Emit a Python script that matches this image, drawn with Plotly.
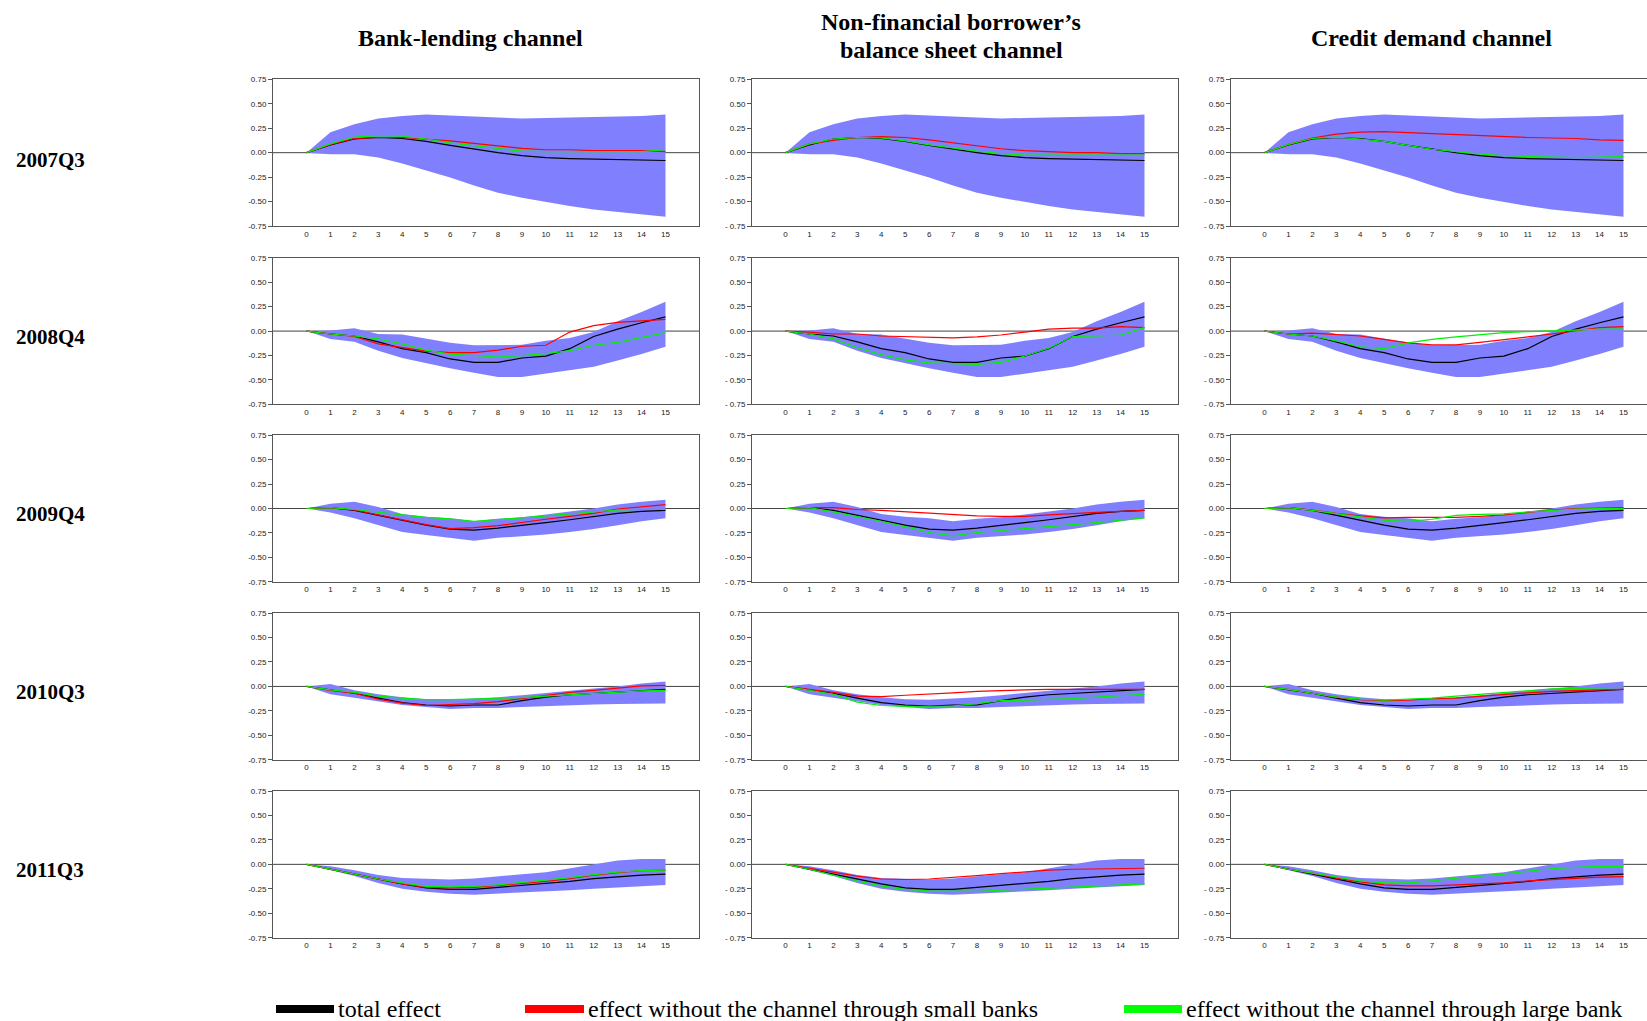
import plotly.graph_objects as go

# ---------------- data ----------------
steps = list(range(16))
period_labels = ["2007Q3", "2008Q4", "2009Q4", "2010Q3", "2011Q3"]
channel_titles = [["Bank-lending channel"],
                  ["Non-financial borrower’s", "balance sheet channel"],
                  ["Credit demand channel"]]
y_tick_vals = [0.75, 0.50, 0.25, 0.00, -0.25, -0.50, -0.75]
y_tick_text_left = ["0.75", "0.50", "0.25", "0.00", "-0.25", "-0.50", "-0.75"]
y_tick_text_other = ["0.75", "0.50", "0.25", "0.00", "- 0.25", "- 0.50", "- 0.75"]
legend_labels = ["total effect",
                 "effect without the channel through small banks",
                 "effect without the channel through large bank"]

# confidence band and total effect per period
upper_07q3 = [0, 0.21, 0.29, 0.35, 0.375, 0.39, 0.38, 0.37, 0.355, 0.35, 0.355, 0.36, 0.365, 0.365, 0.375, 0.39]
lower_07q3 = [0, -0.015, -0.015, -0.05, -0.11, -0.18, -0.255, -0.335, -0.41, -0.46, -0.505, -0.545, -0.58, -0.605, -0.63, -0.655]
total_07q3 = [0, 0.08, 0.14, 0.155, 0.145, 0.115, 0.075, 0.035, 0.0, -0.03, -0.05, -0.06, -0.065, -0.07, -0.075, -0.08]

upper_08q4 = [0, 0.005, 0.03, -0.03, -0.035, -0.08, -0.12, -0.145, -0.14, -0.14, -0.10, -0.07, -0.01, 0.10, 0.195, 0.30]
lower_08q4 = [0, -0.08, -0.11, -0.20, -0.275, -0.33, -0.38, -0.425, -0.47, -0.47, -0.435, -0.40, -0.365, -0.30, -0.235, -0.16]
total_08q4 = [0, -0.03, -0.05, -0.11, -0.18, -0.22, -0.285, -0.32, -0.32, -0.275, -0.255, -0.18, -0.055, 0.02, 0.085, 0.145]

upper_09q4 = [0, 0.05, 0.07, 0.015, -0.055, -0.085, -0.10, -0.13, -0.105, -0.09, -0.06, -0.03, 0.0, 0.04, 0.07, 0.09]
lower_09q4 = [0, -0.04, -0.10, -0.17, -0.24, -0.27, -0.30, -0.33, -0.30, -0.285, -0.265, -0.24, -0.21, -0.17, -0.13, -0.10]
total_09q4 = [0, 0.01, -0.02, -0.07, -0.12, -0.17, -0.21, -0.22, -0.20, -0.175, -0.145, -0.115, -0.08, -0.05, -0.03, -0.02]

upper_10q3 = [0, 0.025, -0.04, -0.08, -0.11, -0.13, -0.135, -0.125, -0.11, -0.09, -0.065, -0.045, -0.02, 0.0, 0.03, 0.05]
lower_10q3 = [0, -0.08, -0.115, -0.15, -0.19, -0.21, -0.23, -0.22, -0.22, -0.21, -0.20, -0.19, -0.185, -0.18, -0.175, -0.175]
total_10q3 = [0, -0.035, -0.07, -0.12, -0.165, -0.19, -0.20, -0.19, -0.19, -0.145, -0.11, -0.085, -0.07, -0.055, -0.04, -0.03]

upper_11q3 = [0, -0.02, -0.06, -0.11, -0.14, -0.15, -0.155, -0.145, -0.12, -0.10, -0.08, -0.04, 0.0, 0.04, 0.055, 0.055]
lower_11q3 = [0, -0.06, -0.12, -0.19, -0.25, -0.28, -0.30, -0.31, -0.30, -0.29, -0.275, -0.265, -0.25, -0.235, -0.22, -0.21]
total_11q3 = [0, -0.05, -0.10, -0.15, -0.20, -0.24, -0.255, -0.255, -0.235, -0.215, -0.20, -0.175, -0.145, -0.125, -0.11, -0.10]

# effect without small banks (red) per period and channel
small_07q3_bank = [0, 0.085, 0.145, 0.155, 0.155, 0.14, 0.12, 0.095, 0.07, 0.045, 0.03, 0.03, 0.02, 0.02, 0.02, 0.01]
small_07q3_bs = [0, 0.09, 0.125, 0.155, 0.165, 0.155, 0.13, 0.10, 0.07, 0.04, 0.02, 0.01, 0.0, 0.0, -0.01, -0.01]
small_07q3_cd = [0, 0.085, 0.15, 0.19, 0.21, 0.215, 0.205, 0.195, 0.18, 0.17, 0.16, 0.155, 0.15, 0.145, 0.13, 0.125]
small_08q4_bank = [0, -0.03, -0.055, -0.13, -0.165, -0.205, -0.22, -0.22, -0.195, -0.155, -0.145, -0.01, 0.055, 0.09, 0.105, 0.12]
small_08q4_bs = [0, -0.01, -0.03, -0.03, -0.05, -0.055, -0.065, -0.07, -0.06, -0.04, -0.01, 0.02, 0.03, 0.03, 0.045, 0.035]
small_08q4_cd = [0, -0.03, -0.02, -0.035, -0.05, -0.085, -0.12, -0.14, -0.14, -0.115, -0.09, -0.06, -0.03, 0.0, 0.035, 0.045]
small_09q4_bank = [0, 0.01, -0.015, -0.065, -0.12, -0.165, -0.205, -0.195, -0.175, -0.14, -0.11, -0.08, -0.05, -0.005, 0.02, 0.04]
small_09q4_bs = [0, 0.01, 0.01, -0.01, -0.02, -0.035, -0.045, -0.06, -0.075, -0.08, -0.08, -0.065, -0.05, -0.04, -0.03, -0.02]
small_09q4_cd = [0, 0.01, -0.015, -0.05, -0.075, -0.095, -0.09, -0.09, -0.09, -0.08, -0.065, -0.04, -0.015, 0.0, 0.005, 0.01]
small_10q3_bank = [0, -0.04, -0.07, -0.13, -0.17, -0.195, -0.185, -0.175, -0.155, -0.125, -0.09, -0.06, -0.04, -0.015, 0.005, 0.01]
small_10q3_bs = [0, -0.03, -0.06, -0.10, -0.105, -0.09, -0.08, -0.065, -0.05, -0.04, -0.035, -0.03, -0.03, -0.03, -0.03, -0.03]
small_10q3_cd = [0, -0.03, -0.07, -0.11, -0.135, -0.145, -0.14, -0.125, -0.12, -0.10, -0.08, -0.065, -0.05, -0.04, -0.035, -0.03]
small_11q3_bank = [0, -0.05, -0.10, -0.15, -0.20, -0.235, -0.24, -0.235, -0.215, -0.195, -0.175, -0.145, -0.11, -0.085, -0.065, -0.06]
small_11q3_bs = [0, -0.04, -0.08, -0.12, -0.15, -0.155, -0.15, -0.135, -0.115, -0.095, -0.075, -0.06, -0.05, -0.045, -0.04, -0.04]
small_11q3_cd = [0, -0.05, -0.09, -0.14, -0.18, -0.21, -0.22, -0.22, -0.21, -0.20, -0.19, -0.17, -0.155, -0.14, -0.13, -0.125]

# effect without large banks (green) per period and channel
large_07q3_bank = [0, 0.09, 0.16, 0.175, 0.17, 0.14, 0.10, 0.07, 0.04, 0.015, 0.01, 0.01, 0.01, 0.01, 0.01, 0.03]
large_07q3_bs = [0, 0.09, 0.14, 0.155, 0.15, 0.12, 0.08, 0.045, 0.015, -0.01, -0.025, -0.025, -0.025, -0.025, -0.025, -0.025]
large_07q3_cd = [0, 0.085, 0.145, 0.16, 0.14, 0.115, 0.075, 0.035, 0.01, -0.015, -0.03, -0.04, -0.045, -0.05, -0.045, -0.04]
large_08q4_bank = [0, -0.03, -0.05, -0.08, -0.13, -0.195, -0.235, -0.25, -0.265, -0.25, -0.23, -0.20, -0.145, -0.115, -0.065, -0.015]
large_08q4_bs = [0, -0.03, -0.08, -0.17, -0.24, -0.295, -0.325, -0.335, -0.34, -0.32, -0.255, -0.175, -0.055, -0.05, -0.04, 0.035]
large_08q4_cd = [0, -0.03, -0.05, -0.10, -0.16, -0.18, -0.12, -0.085, -0.06, -0.035, -0.015, -0.005, 0.0, 0.01, 0.02, 0.02]
large_09q4_bank = [0, 0.01, -0.01, -0.04, -0.065, -0.09, -0.105, -0.13, -0.115, -0.095, -0.075, -0.055, -0.035, -0.015, -0.01, -0.01]
large_09q4_bs = [0, 0.01, -0.035, -0.08, -0.13, -0.185, -0.245, -0.28, -0.245, -0.225, -0.205, -0.19, -0.165, -0.145, -0.12, -0.095]
large_09q4_cd = [0, 0.01, -0.02, -0.05, -0.085, -0.12, -0.13, -0.11, -0.07, -0.06, -0.055, -0.035, -0.02, -0.005, 0.0, 0.0]
large_10q3_bank = [0, -0.035, -0.06, -0.10, -0.12, -0.135, -0.135, -0.13, -0.125, -0.115, -0.10, -0.085, -0.07, -0.055, -0.045, -0.04]
large_10q3_bs = [0, -0.04, -0.08, -0.16, -0.195, -0.205, -0.205, -0.20, -0.175, -0.145, -0.14, -0.135, -0.125, -0.11, -0.095, -0.08]
large_10q3_cd = [0, -0.03, -0.07, -0.11, -0.13, -0.14, -0.13, -0.12, -0.10, -0.08, -0.06, -0.04, -0.025, -0.02, -0.015, -0.01]
large_11q3_bank = [0, -0.05, -0.10, -0.15, -0.19, -0.225, -0.23, -0.225, -0.21, -0.185, -0.165, -0.135, -0.105, -0.08, -0.065, -0.06]
large_11q3_bs = [0, -0.05, -0.11, -0.17, -0.22, -0.255, -0.27, -0.275, -0.275, -0.265, -0.255, -0.245, -0.23, -0.22, -0.21, -0.20]
large_11q3_cd = [0, -0.05, -0.09, -0.13, -0.17, -0.19, -0.19, -0.17, -0.14, -0.12, -0.10, -0.07, -0.045, -0.03, -0.02, -0.02]

uppers = [upper_07q3, upper_08q4, upper_09q4, upper_10q3, upper_11q3]
lowers = [lower_07q3, lower_08q4, lower_09q4, lower_10q3, lower_11q3]
totals = [total_07q3, total_08q4, total_09q4, total_10q3, total_11q3]
smalls = [[small_07q3_bank, small_07q3_bs, small_07q3_cd],
          [small_08q4_bank, small_08q4_bs, small_08q4_cd],
          [small_09q4_bank, small_09q4_bs, small_09q4_cd],
          [small_10q3_bank, small_10q3_bs, small_10q3_cd],
          [small_11q3_bank, small_11q3_bs, small_11q3_cd]]
larges = [[large_07q3_bank, large_07q3_bs, large_07q3_cd],
          [large_08q4_bank, large_08q4_bs, large_08q4_cd],
          [large_09q4_bank, large_09q4_bs, large_09q4_cd],
          [large_10q3_bank, large_10q3_bs, large_10q3_cd],
          [large_11q3_bank, large_11q3_bs, large_11q3_cd]]

# ---------------- layout geometry (pixels) ----------------
W, H = 1647, 1021
col_left = [273, 752, 1231]
panel_w = 426
row_top = [76, 256, 435, 614.5, 794]
panel_h = 148
x_lo, x_hi = -1.4, 16.4
px_per_unit = panel_w / (x_hi - x_lo)

BAND = "#8080FF"
AXCOL = "#555555"
TICKFONT = dict(family="Liberation Sans, Arial", size=8, color="#222222")
SERIF = "Liberation Serif, Times New Roman"

fig = go.Figure()
layout = dict(width=W, height=H, margin=dict(l=0, r=0, t=0, b=0),
              paper_bgcolor="white", plot_bgcolor="white", showlegend=False)
shapes = []
annotations = []

for r in range(5):
    for c in range(3):
        n = r * 3 + c + 1
        xs = "" if n == 1 else str(n)
        xref, yref = "x" + xs, "y" + xs
        left = col_left[c]
        right = min(left + panel_w, W)
        xr_hi = x_lo + (right - left) / px_per_unit
        top = row_top[r]
        layout["xaxis" + xs] = dict(
            domain=[left / W, right / W], anchor=yref, range=[x_lo, xr_hi],
            tickmode="array", tickvals=steps, ticktext=[str(s) for s in steps],
            ticks="", tickfont=TICKFONT, showgrid=False, zeroline=False,
            showline=True, linecolor=AXCOL, linewidth=1, mirror=True,
            fixedrange=True)
        layout["yaxis" + xs] = dict(
            domain=[1 - (top + panel_h) / H, 1 - top / H], anchor=xref,
            range=[-0.75, 0.75], tickmode="array", tickvals=y_tick_vals,
            ticktext=y_tick_text_left if c == 0 else y_tick_text_other,
            ticks="outside", ticklen=4, tickcolor=AXCOL, tickfont=TICKFONT,
            showgrid=False, zeroline=False, showline=True, linecolor=AXCOL,
            linewidth=1, mirror=(c < 2), fixedrange=True)

        fig.add_trace(go.Scatter(x=steps, y=lowers[r], mode="lines",
                                 line=dict(width=0, color=BAND),
                                 xaxis=xref, yaxis=yref, hoverinfo="skip"))
        fig.add_trace(go.Scatter(x=steps, y=uppers[r], mode="lines",
                                 line=dict(width=0, color=BAND), fill="tonexty",
                                 fillcolor=BAND, xaxis=xref, yaxis=yref,
                                 hoverinfo="skip"))
        fig.add_trace(go.Scatter(x=steps, y=totals[r], mode="lines",
                                 line=dict(width=1.2, color="#000000"),
                                 xaxis=xref, yaxis=yref, name=legend_labels[0]))
        fig.add_trace(go.Scatter(x=steps, y=smalls[r][c], mode="lines",
                                 line=dict(width=1.2, color="#FF0000"),
                                 xaxis=xref, yaxis=yref, name=legend_labels[1]))
        fig.add_trace(go.Scatter(x=steps, y=larges[r][c], mode="lines",
                                 line=dict(width=1.2, color="#00F000"),
                                 xaxis=xref, yaxis=yref, name=legend_labels[2]))
        # zero reference line across the panel
        shapes.append(dict(type="line", xref=xref + " domain", yref=yref,
                           x0=0, x1=1, y0=0, y1=0, layer="below",
                           line=dict(color="#444444", width=1)))

# column titles (one annotation per line)
title_x = [470, 951, 1431]
title_line_y = [[34], [18, 46.5], [34]]
for c, lines in enumerate(channel_titles):
    for t, ty in zip(lines, title_line_y[c]):
        annotations.append(dict(text="<b>" + t + "</b>", x=title_x[c] / W,
                                y=1 - ty / H, xref="paper", yref="paper",
                                showarrow=False, xanchor="center",
                                yanchor="middle",
                                font=dict(family=SERIF, size=24, color="#000000")))

# row labels
label_y = [157, 336, 515, 694, 874]
for r, lab in enumerate(period_labels):
    annotations.append(dict(text="<b>" + lab + "</b>", x=50 / W,
                            y=1 - label_y[r] / H, xref="paper",
                            yref="paper", showarrow=False, xanchor="center",
                            yanchor="middle",
                            font=dict(family=SERIF, size=21, color="#000000")))

# legend
leg_y = 1014
leg_x = [(276, 334), (525, 584), (1124, 1182)]
leg_col = ["#000000", "#FF0000", "#00FF00"]
for (x0, x1), col, lab in zip(leg_x, leg_col, legend_labels):
    shapes.append(dict(type="line", xref="paper", yref="paper",
                       x0=x0 / W, x1=x1 / W, y0=1 - leg_y / H, y1=1 - leg_y / H,
                       line=dict(color=col, width=8)))
    annotations.append(dict(text=lab, x=(x1 + 2) / W, y=1 - leg_y / H,
                            xref="paper", yref="paper", showarrow=False,
                            xanchor="left", yanchor="middle",
                            font=dict(family=SERIF, size=24, color="#000000")))

layout["shapes"] = shapes
layout["annotations"] = annotations
fig.update_layout(**layout)
fig.write_html("out.html", config={"displayModeBar": False},
               post_script="document.body.style.margin='0px';"
                           "document.body.style.overflow='hidden';")
